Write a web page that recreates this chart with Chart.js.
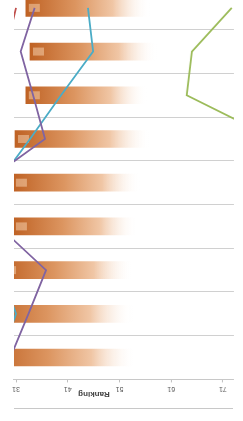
<!DOCTYPE html>
<html lang="en">
<head>
  <meta charset="UTF-8">
  <title>Ranking</title>
  <script src="https://cdn.jsdelivr.net/npm/chart.js"></script>
  <style>
    body {
      margin: 0;
      background: #ffffff;
      overflow: hidden;
      width: 243px;
      height: 421px;
      position: relative;
    }

    /* the picture is shown upside down, so the whole chart is turned */
    .turned {
      position: absolute;
      left: 0;
      top: -29px;
      width: 243px;
      height: 450px;
      transform: rotate(180deg);
    }

    .axis-title {
      position: absolute;
      left: 149px;
      top: 26px;
      transform: translate(-50%, -50%);
      font: bold 8px 'Liberation Sans', sans-serif;
      color: #404040;
      white-space: nowrap;
    }

    .rule {
      position: absolute;
      left: 10px;
      top: 12px;
      width: 219px;
      border-top: 1px solid #c8c8c8;
    }
  </style>
</head>
<body>

  <div class="turned">
    <canvas id="rankChart" width="243" height="450"></canvas>
    <div class="axis-title">Ranking</div>
    <div class="rule"></div>
  </div>

  <script>
    const rows = ['1', '2', '3', '4', '5', '6', '7', '8', '9'];
    const xTicks = [31, 41, 51, 61, 71];

    // bars: start and end of each faded bar (ranking units)
    const barStart = [32.9, 33.7, 32.9, 30.8, 30.4, 30.4, 28.3, 26, 26];
    const barEnd = [56.9, 58.2, 56.3, 56.9, 55.0, 54.4, 53.6, 53.6, 54.0];

    const purple = [34.6, 31.9, 34.3, 36.6, 24.9, 27.7, 36.8, 33.4, 29.9];
    const teal = [44.9, 45.9, 39.7, 33.7, 27.5, 25.0, 28.0, 31.0, 28.0];
    const green = [72.7, 65.0, 64.0, 81.0, 85.0, 85.0, 85.0, 85.0, 85.0];
    const red = [31.0, 29.0, 22.0, 22.0, 22.0, 22.0, 22.0, 22.0, 22.0];

    function barGradient(c) {
      const chart = c.chart;
      const xs = chart.scales.x;
      if (!xs || c.dataIndex === undefined) return '#c26a2e';
      const i = c.dataIndex;
      const x0 = xs.getPixelForValue(barStart[i]);
      const x1 = xs.getPixelForValue(barEnd[i]);
      if (!Number.isFinite(x0) || !Number.isFinite(x1)) return '#c26a2e';
      const g = chart.ctx.createLinearGradient(x0, 0, x1, 0);
      g.addColorStop(0, '#bf6224');
      g.addColorStop(0.4, '#dc9560');
      g.addColorStop(0.7, '#f0c6a5');
      g.addColorStop(1, 'rgba(255,255,255,0)');
      return g;
    }

    // small light label boxes at the start of each bar
    const labelBoxes = {
      id: 'labelBoxes',
      afterDatasetDraw(chart, args) {
        if (args.index !== 0) return;
        const area = chart.chartArea;
        const ctx = chart.ctx;
        ctx.save();
        ctx.beginPath();
        ctx.rect(area.left, area.top, area.right - area.left, area.bottom - area.top);
        ctx.clip();
        ctx.fillStyle = 'rgba(255,228,200,0.45)';
        args.meta.data.forEach(bar => {
          const p = bar.getProps(['base', 'y'], true);
          ctx.fillRect(p.base - 14, p.y - 4, 11, 8);
        });
        ctx.restore();
      }
    };

    const lineStyle = { type: 'line', pointRadius: 0, borderWidth: 1.8, tension: 0, order: 1, fill: false };

    new Chart(document.getElementById('rankChart'), {
      type: 'bar',
      data: {
        labels: rows,
        datasets: [
          {
            label: 'bars',
            data: barStart.map((s, i) => [s, barEnd[i]]),
            backgroundColor: barGradient,
            borderWidth: 0,
            barThickness: 17,
            clip: 0,
            order: 2
          },
          Object.assign({ label: 'purple', data: purple, borderColor: '#8064a2' }, lineStyle),
          Object.assign({ label: 'teal', data: teal, borderColor: '#4bacc6' }, lineStyle),
          Object.assign({ label: 'green', data: green, borderColor: '#9bbb59' }, lineStyle),
          Object.assign({ label: 'red', data: red, borderColor: '#c0504d' }, lineStyle)
        ]
      },
      options: {
        indexAxis: 'y',
        responsive: false,
        animation: false,
        layout: { padding: { left: 9, right: 14, top: 0, bottom: 15 } },
        scales: {
          x: {
            type: 'linear',
            position: 'top',
            reverse: true,
            min: 30.61,
            max: 73.13,
            afterBuildTicks: s => { s.ticks = xTicks.map(v => ({ value: v })); },
            afterFit: s => { s.height = 41.6; },
            grid: { drawOnChartArea: false, drawTicks: true, tickLength: 3, color: '#bfbfbf' },
            border: { display: true, color: '#c8c8c8' },
            ticks: {
              padding: 2,
              maxRotation: 0,
              autoSkip: false,
              color: '#595959',
              font: { family: 'Liberation Sans', size: 7 }
            }
          },
          y: {
            type: 'category',
            reverse: true,
            offset: true,
            grid: { offset: true, drawTicks: false, color: '#d0d0d0' },
            border: { display: false },
            ticks: { display: false }
          }
        },
        plugins: {
          legend: { display: false },
          tooltip: { enabled: false }
        }
      },
      plugins: [labelBoxes]
    });
  </script>
</body>
</html>
